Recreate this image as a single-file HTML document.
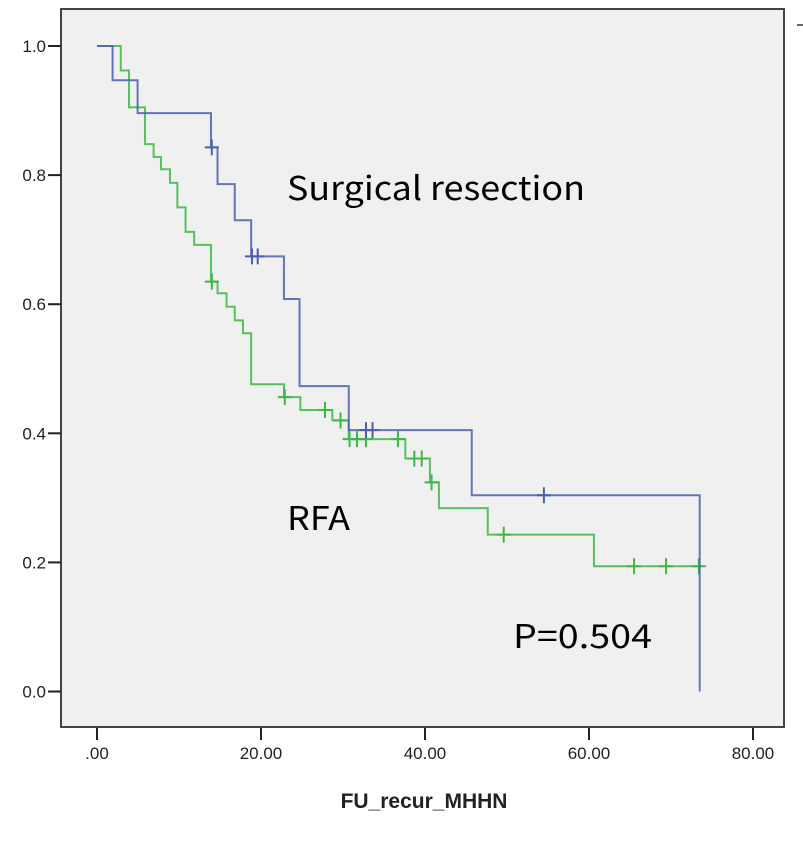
<!DOCTYPE html>
<html><head><meta charset="utf-8"><style>
html,body{margin:0;padding:0;background:#fff;}
svg{display:block;font-family:"Liberation Sans",Arial,sans-serif;}
</style></head><body>
<svg id="chart" width="803" height="841">
  <rect x="61" y="9" width="723" height="718" fill="#f0f0f0" stroke="#444" stroke-width="2"/>
  <line x1="797" y1="25" x2="803" y2="25" stroke="#333" stroke-width="1.5"/>
  <g id="axes"></g>
  <g id="series"></g>
  <text x="287" y="200" font-family="'Noto Sans CJK KR','Liberation Sans',sans-serif" font-size="33" textLength="298" lengthAdjust="spacingAndGlyphs" fill="#000">Surgical resection</text>
  <text x="287" y="530" font-family="'Noto Sans CJK KR','Liberation Sans',sans-serif" font-size="33" textLength="63" lengthAdjust="spacingAndGlyphs" fill="#000">RFA</text>
  <text x="513" y="648" font-family="'Noto Sans CJK KR','Liberation Sans',sans-serif" font-size="33" textLength="139" lengthAdjust="spacingAndGlyphs" fill="#000">P=0.504</text>
  <text x="424" y="808" font-size="21" font-weight="bold" text-anchor="middle" fill="#222">FU_recur_MHHN</text>
</svg>
<script>
const xTicks=[0,20,40,60,80];
const xTickLabels=[".00","20.00","40.00","60.00","80.00"];
const yTicks=[0,0.2,0.4,0.6,0.8,1.0];
const yTickLabels=["0.0","0.2","0.4","0.6","0.8","1.0"];
// Surgical resection (blue)
const blueTimes=[1.9,4.95,13.9,14.7,16.8,18.8,22.8,24.7,30.7,45.7,73.5];
const blueSurv=[0.947,0.896,0.843,0.786,0.730,0.674,0.608,0.473,0.405,0.304,0.0];
const blueCensor=[14.0,18.9,19.6,32.8,33.6,54.5];
const blueEnd=73.5;
// RFA (green)
const greenTimes=[2.9,3.9,5.85,6.9,7.8,8.9,9.8,10.8,11.85,13.9,14.7,15.8,16.8,17.8,18.8,22.8,24.8,28.7,30.7,37.6,40.6,41.7,47.65,60.6];
const greenSurv=[0.962,0.905,0.848,0.828,0.809,0.788,0.750,0.712,0.692,0.635,0.617,0.596,0.575,0.555,0.476,0.456,0.436,0.420,0.391,0.361,0.324,0.284,0.243,0.194];
const greenCensor=[14.0,22.9,27.8,29.7,30.8,31.7,32.8,36.7,38.7,39.6,40.8,49.6,65.5,69.4,73.4];
const greenEnd=73.6;

const NS="http://www.w3.org/2000/svg";
const X=t=>97+t*8.2;
const Y=s=>691.5-s*645.5;
function mk(tag,attrs,parent){const e=document.createElementNS(NS,tag);for(const k in attrs)e.setAttribute(k,attrs[k]);parent.appendChild(e);return e;}
const axes=document.getElementById('axes');
xTicks.forEach((v,i)=>{
  const l=mk('line',{x1:X(v),x2:X(v),y1:728,y2:740,stroke:'#222','stroke-width':2},axes);
  
  
  const t=mk('text',{x:X(v),y:759,'font-size':17,'text-anchor':'middle',fill:'#222'},axes);
  t.textContent=xTickLabels[i];
  
  
});
yTicks.forEach((v,i)=>{
  const l=mk('line',{x1:48,x2:61,y1:Y(v),y2:Y(v),stroke:'#222','stroke-width':2},axes);
  
  
  const t=mk('text',{x:46,y:Y(v)+6,'font-size':17,'text-anchor':'end',fill:'#222'},axes);
  t.textContent=yTickLabels[i];
  
  
});
const series=document.getElementById('series');
function survAt(times,surv,t){let s=1;for(let i=0;i<times.length;i++){if(times[i]<=t)s=surv[i];}return s;}
function draw(times,surv,censor,end,color,name){
  let d=`M${X(0)},${Y(1)}`;
  for(let i=0;i<times.length;i++){d+=` H${X(times[i])} V${Y(surv[i])}`;}
  if(X(end)>X(times[times.length-1]))d+=` H${X(end)}`;
  const p=mk('path',{d:d,fill:'none',stroke:color,'stroke-width':2,'stroke-opacity':0.85},series);
  
  
  censor.forEach(c=>{
    const sv=survAt(times,surv,c);
    const g=mk('path',{d:`M${X(c)-7},${Y(sv)} H${X(c)+7} M${X(c)},${Y(sv)-8} V${Y(sv)+8}`,stroke:color,'stroke-width':2,fill:'none'},series);
    
    
  });
}
draw(greenTimes,greenSurv,greenCensor,greenEnd,'#3cb846','rfa');
draw(blueTimes,blueSurv,blueCensor,blueEnd,'#4a5fb0','surgical');
</script>
</body></html>
